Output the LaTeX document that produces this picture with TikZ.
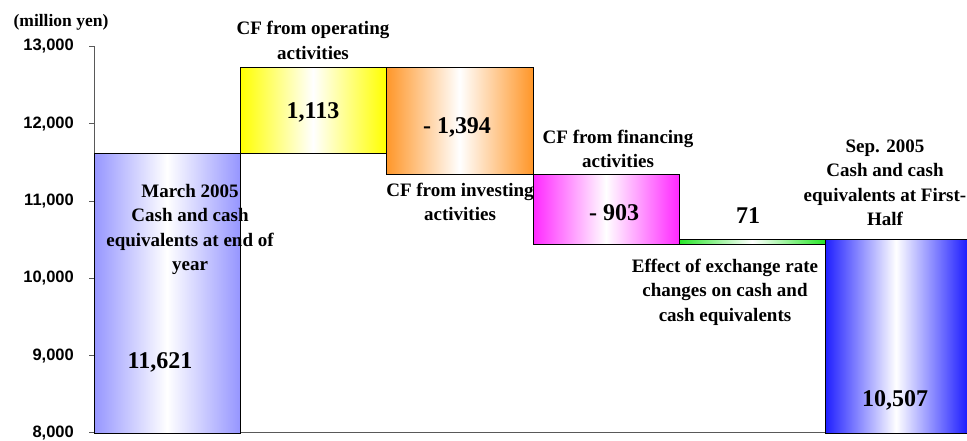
\documentclass[tikz,border=0pt]{standalone}
\usepackage{fontspec}
\setmainfont{Liberation Serif}
\newfontfamily\axisfont{Liberation Sans}
\definecolor{MarBlue}{RGB}{150,150,255}
\definecolor{SepBlue}{RGB}{30,30,255}
\definecolor{OpYellow}{RGB}{255,255,0}
\definecolor{InvOrange}{RGB}{255,150,40}
\definecolor{FinMagenta}{RGB}{255,40,255}
\definecolor{FxGreen}{RGB}{40,230,40}

\begin{document}
\begin{tikzpicture}[x=1pt,y=77.3pt,
  bar/.style={draw=black,line width=0.8pt},
  caption/.style={font=\bfseries\fontsize{19}{24.5}\selectfont,align=center,inner sep=0pt},
  amount/.style={font=\bfseries\fontsize{24}{26}\selectfont,inner sep=0pt},
  ticklabel/.style={font=\axisfont\bfseries\fontsize{16.5}{18}\selectfont,anchor=east,inner sep=0pt}]
\begin{scope}[yshift=-618.4pt]
\useasboundingbox (0,7.8965) rectangle (967,13.601);

  % axis and ticks
  \draw[gray!70!black,line width=1pt] (94,13) -- (94,8) -- (967,8);
  \foreach \v in {8,...,13}{
    \draw[gray!70!black,line width=1pt] (89,\v) -- (94,\v);
    \node[ticklabel] (Tick\v) at (74,\v) {\v,000};
  }
  \node[caption,font=\bfseries\fontsize{17.5}{18}\selectfont] (Unit) at (61,13.317) {(million yen)};

  % bars
  \draw[bar,left color=MarBlue,right color=MarBlue,middle color=white] (94,8) rectangle (240,11.621);
  \draw[bar,left color=OpYellow,right color=OpYellow,middle color=white] (240,11.621) rectangle (386,12.734);
  \draw[bar,left color=InvOrange,right color=InvOrange,middle color=white] (386,12.734) rectangle (533,11.340);
  \draw[bar,left color=FinMagenta,right color=FinMagenta,middle color=white] (533,11.340) rectangle (679,10.437);
  \draw[bar,left color=FxGreen,right color=FxGreen,middle color=white] (679,10.437) rectangle (825,10.508);
  \draw[bar,left color=SepBlue,right color=SepBlue,middle color=white] (825,8) rectangle (967,10.507);

  % amounts
  \node[amount] (MarVal) at (160,8.918) {11,621};
  \node[amount] (OpVal) at (313,12.153) {1,113};
  \node[amount] (InvVal) at (457,11.959) {- 1,394};
  \node[amount] (FinVal) at (614,10.846) {- 903};
  \node[amount] (FxVal) at (748,10.807) {71};
  \node[amount] (SepVal) at (895,8.427) {10,507};

  % captions
  \node[caption] (MarText) at (190,10.633) {March 2005\\Cash and cash\\equivalents at end of\\year};
  \node[caption] (OpText) at (313,13.078) {CF from operating\\activities};
  \node[caption] (InvText) at (460,10.988) {CF from investing\\activities};
  \node[caption] (FinText) at (618,11.674) {CF from financing\\activities};
  \node[caption] (FxText) at (725,9.824) {Effect of exchange rate\\changes on cash and\\cash equivalents};
  \node[caption] (SepText) at (885,11.234) {Sep. 2005\\Cash and cash\\equivalents at First-\\Half};
\end{scope}
\end{tikzpicture}
\end{document}
